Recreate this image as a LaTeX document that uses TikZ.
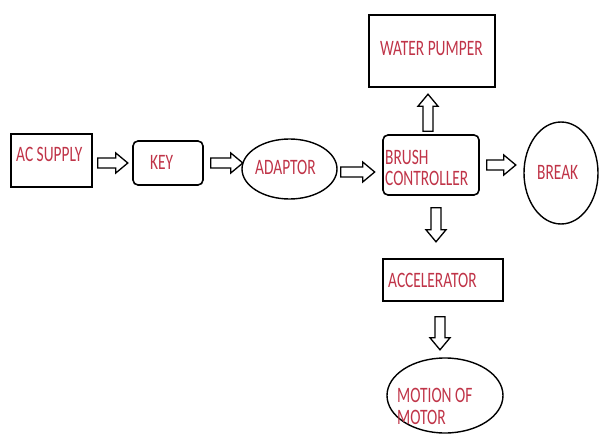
\documentclass[tikz,border=0pt]{standalone}
\usepackage{fontspec}
\usetikzlibrary{calc,shapes.geometric}
\newfontfamily\lab{Carlito}[FakeStretch=0.70]
\definecolor{tred}{RGB}{192,52,72}
\tikzset{
  x=1pt,y=-1pt,
  box/.style={draw=black,line width=1.6pt,inner sep=0pt},
  rbox/.style={box,rounded corners=5pt},
  ell/.style={draw=black,line width=1.4pt,ellipse,inner sep=0pt},
  txt/.style={font=\lab\fontsize{22}{22}\selectfont,text=tred,inner sep=0pt,align=left},
  pics/barrow/.style={code={
    \draw[line width=1.3pt,fill=white,line join=miter]
      (0,-5) -- ({#1-12},-5) -- ({#1-12},-10) -- (#1,0) -- ({#1-12},10) -- ({#1-12},5) -- (0,5) -- cycle;}}
}
\begin{document}
\begin{tikzpicture}
\useasboundingbox[fill=white] (0,0) rectangle (601,435);
% shapes
\node[box,minimum width=81,minimum height=53] (ac) at (51.5,160.5) {};
\node[rbox,minimum width=70,minimum height=44] (key) at (168,163) {};
\node[ell,minimum width=95,minimum height=60] (adaptor) at (289.5,169) {};
\node[rbox,minimum width=96,minimum height=60] (brush) at (431,165) {};
\node[box,minimum width=126,minimum height=72] (water) at (432,51) {};
\node[ell,minimum width=74,minimum height=102] (break) at (561,173) {};
\node[box,minimum width=120,minimum height=42] (acc) at (443,280) {};
\node[ell,minimum width=116,minimum height=75] (motion) at (445,395.5) {};
% labels
\node[txt,anchor=west] (acT) at (16,154) {AC SUPPLY};
\node[txt,anchor=west] (keyT) at (150,162) {KEY};
\node[txt,anchor=west] (adT) at (255,167) {ADAPTOR};
\node[txt,anchor=west] (brT) at (385,167.5) {BRUSH\\[-1pt]CONTROLLER};
\node[txt,anchor=west] (waT) at (380,49) {WATER PUMPER};
\node[txt,anchor=west] (bkT) at (537,172) {BREAK};
\node[txt,anchor=west] (accT) at (388,280) {ACCELERATOR};
\node[txt,anchor=west] (moT) at (397,406) {MOTION OF\\[0pt]MOTOR};
% block arrows
\pic at ($(ac.east)+(5,2.5)$) {barrow=30};
\pic at ($(key.east)+(7,0)$) {barrow=32};
\pic at ($(adaptor.east)+(3,3)$) {barrow=34};
\pic[rotate=90] at ($(brush.north)+(-3,-3)$) {barrow=37};
\pic at ($(brush.east)+(7,0)$) {barrow=29};
\pic[rotate=-90] at ($(brush.south)+(5,12)$) {barrow=34};
\pic[rotate=-90] at ($(acc.south)+(-3,15)$) {barrow=33};
\end{tikzpicture}
\end{document}
